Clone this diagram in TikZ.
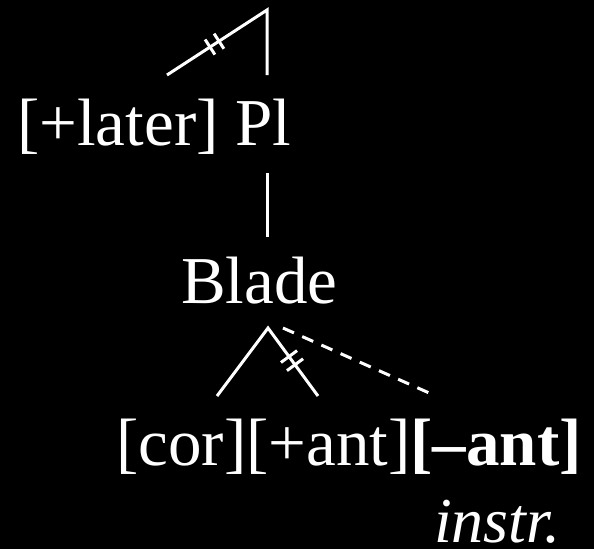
\documentclass[tikz,border=0pt]{standalone}
\usepackage{fontspec}
\setmainfont{Liberation Serif}
\usetikzlibrary{calc}
\tikzset{
  lbl/.style={text=white, inner sep=0pt, anchor=base west, font=\fontsize{67}{72}\selectfont},
  smalllbl/.style={text=white, inner sep=0pt, anchor=base west, font=\fontsize{64}{70}\selectfont},
  branch/.style={draw=white, line width=3pt},
  dashbranch/.style={draw=white, line width=3pt, dash pattern=on 12pt off 9pt},
  tickmark/.style={draw=white, line width=3pt}
}
\begin{document}
\begin{tikzpicture}[x=1pt, y=-1pt]
\fill[black] (0,0) rectangle (594,549);
\useasboundingbox (0,0) rectangle (594,549);
% text nodes
\node[lbl] (pl) at (17,145) {[+later] Pl};
\node[lbl] (blade) at (181,303) {Blade};
\node[lbl] (feat) at (116,465) {[cor][+ant]\textbf{[--ant]}};
\node[smalllbl] (instr) at (434,542) {\textit{instr.}};
% top branching
\coordinate (topapex) at (267,10);
\coordinate (topleft) at (167,75);
\coordinate (topright) at (267,75);
\draw[branch] (topleft) -- (topapex) -- (topright);
\foreach \f in {0.43,0.52} {
  \coordinate (m) at ($(topleft)!\f!(topapex)$);
  \draw[tickmark] ($(m)!9pt!90:(topapex)$) -- ($(m)!9pt!-90:(topapex)$);
}
% vertical
\coordinate (v1) at (267,173);
\coordinate (v2) at (267,237);
\draw[branch] (v1) -- (v2);
% lower branching
\coordinate (lowapex) at (268,328);
\coordinate (lowleft) at (217,396);
\coordinate (lowright) at (318,396);
\coordinate (dashstart) at (283,328);
\coordinate (dashend) at (436,396);
\draw[branch] (lowleft) -- (lowapex) -- (lowright);
\foreach \f in {0.42,0.54} {
  \coordinate (m) at ($(lowapex)!\f!(lowright)$);
  \draw[tickmark] ($(m)!10pt!90:(lowright)$) -- ($(m)!10pt!-90:(lowright)$);
}
\draw[dashbranch] (dashstart) -- (dashend);
\end{tikzpicture}
\end{document}
